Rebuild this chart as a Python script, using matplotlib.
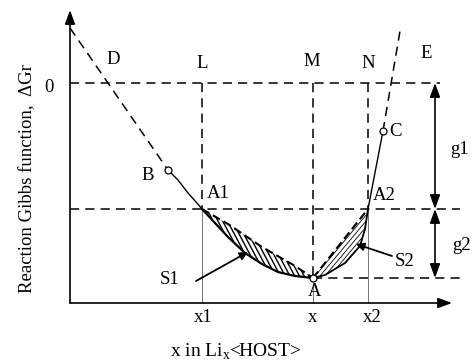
import matplotlib
matplotlib.use("Agg")
import numpy as np
import matplotlib.pyplot as plt
from matplotlib.patches import Polygon

plt.rcParams['font.family'] = ['Liberation Serif', 'DejaVu Serif']

# compositions (x in Li_x<HOST>)
x1_val, x_val, x2_val = 1.32, 2.43, 2.98
# Gibbs energy levels
g_zero, g_A1, g_A = 0.0, -1.26, -1.95

# dashed extrapolation D -> B
line_D_x = [0.00, 0.98]
line_D_y = [0.55, -0.87]
# solid branch B -> A1
branch_BA1_x = [0.98, 1.08, 1.18, 1.26, 1.32]
branch_BA1_y = [-0.87, -0.97, -1.10, -1.19, -1.26]
# region S1: upper (dashed) and lower (solid) boundaries A1 -> A
s1_upper_x = [1.32, 1.58, 1.92, 2.25, 2.43]
s1_upper_y = [-1.26, -1.41, -1.64, -1.83, -1.95]
s1_lower_x = [1.32, 1.45, 1.58, 1.75, 1.92, 2.08, 2.25, 2.43]
s1_lower_y = [-1.26, -1.40, -1.54, -1.70, -1.81, -1.89, -1.93, -1.95]
# region S2: chord and curve A -> A2
s2_upper_x = [2.43, 2.98]
s2_upper_y = [-1.95, -1.26]
s2_lower_x = [2.43, 2.55, 2.75, 2.90, 2.95, 2.98]
s2_lower_y = [-1.95, -1.92, -1.80, -1.63, -1.46, -1.26]
# solid branch A2 -> C and dashed extrapolation C -> E
branch_A2C_x = [2.98, 3.13]
branch_A2C_y = [-1.26, -0.48]
line_E_x = [3.13, 3.30]
line_E_y = [-0.48, 0.52]

x_axis_end, y_axis_top, y_axis_bottom = 3.82, 0.73, -2.20
g_arrow_x = 3.65

fig = plt.figure(figsize=(4.73, 3.61), dpi=100)
ax = fig.add_axes([0, 0, 1, 1])
ax.set_xlim(-0.70, 4.03)
ax.set_ylim(-2.78, 0.83)
ax.axis('off')

dash = (0, (6, 4))
lw_axis = 1.2
lw_dash = 1.1


def hatch_region(xs_up, ys_up, xs_lo, ys_lo, angle_deg, spacing, lw):
    """Fill the band between two boundaries with parallel lines clipped to it."""
    pts = list(zip(xs_up, ys_up)) + list(zip(xs_lo, ys_lo))[::-1]
    patch = Polygon(pts, closed=True, facecolor='white', edgecolor='none', zorder=2)
    ax.add_patch(patch)
    a = np.deg2rad(angle_deg)
    d = np.array([np.cos(a), np.sin(a)])
    n = np.array([-d[1], d[0]])
    arr = np.array(pts)
    c0 = arr.mean(axis=0)
    proj = (arr - c0) @ n
    for off in np.arange(proj.min() - spacing, proj.max() + spacing, spacing):
        p0 = c0 + off * n - 1.5 * d
        p1 = c0 + off * n + 1.5 * d
        ln, = ax.plot([p0[0], p1[0]], [p0[1], p1[1]], color='black', lw=lw, zorder=2.5)
        ln.set_clip_path(patch)


# axes with arrowheads
ax.annotate('', xy=(0, y_axis_top), xytext=(0, y_axis_bottom),
            arrowprops=dict(arrowstyle='-|>,head_length=0.6,head_width=0.22',
                            lw=lw_axis, color='black',
                            mutation_scale=14, shrinkA=0, shrinkB=0))
ax.annotate('', xy=(x_axis_end, y_axis_bottom), xytext=(0, y_axis_bottom),
            arrowprops=dict(arrowstyle='-|>,head_length=0.6,head_width=0.22',
                            lw=lw_axis, color='black',
                            mutation_scale=14, shrinkA=0, shrinkB=0))

# horizontal reference levels
ax.plot([0, 3.70], [g_zero, g_zero], color='black', lw=lw_dash, ls=dash)
ax.plot([0, 3.90], [g_A1, g_A1], color='black', lw=lw_dash, ls=dash)
ax.plot([x_val, 3.92], [g_A, g_A], color='black', lw=lw_dash, ls=dash)

# vertical guides L, M, N
for xv, yend in [(x1_val, g_A1), (x_val, g_A), (x2_val, g_A1)]:
    ax.plot([xv, xv], [g_zero, yend], color='black', lw=lw_dash, ls=dash)
    ax.plot([xv, xv], [yend, y_axis_bottom], color='#777777', lw=0.7)

# hatched regions S1 and S2
hatch_region(s1_upper_x, s1_upper_y, s1_lower_x, s1_lower_y, -62, 0.042, 1.0)
hatch_region(s2_upper_x, s2_upper_y, s2_lower_x, s2_lower_y, 50, 0.038, 0.6)

# curve and extrapolations
ax.plot(line_D_x, line_D_y, color='black', lw=lw_dash, ls=dash)
ax.plot(branch_BA1_x, branch_BA1_y, color='black', lw=1.0)
ax.plot(s1_upper_x, s1_upper_y, color='black', lw=1.5, ls=(0, (4, 2)), zorder=3)
ax.plot(s1_lower_x, s1_lower_y, color='black', lw=1.6, zorder=3)
ax.plot(s2_upper_x, s2_upper_y, color='black', lw=1.5, ls=(0, (4, 2)), zorder=3)
ax.plot(s2_lower_x, s2_lower_y, color='black', lw=1.3, zorder=3)
ax.plot(branch_A2C_x, branch_A2C_y, color='black', lw=1.0)
ax.plot(line_E_x, line_E_y, color='black', lw=lw_dash, ls=dash)

# open circles at B, C, A
for px, py in [(line_D_x[1], line_D_y[1]), (branch_A2C_x[1], branch_A2C_y[1]),
               (x_val, g_A)]:
    ax.plot(px, py, marker='o', ms=5, mfc='white', mec='black', mew=0.9, zorder=5)

# g1 / g2 double arrows
for ya, yb in [(g_zero, g_A1), (g_A1, g_A)]:
    ax.annotate('', xy=(g_arrow_x, ya), xytext=(g_arrow_x, yb),
                arrowprops=dict(arrowstyle='<|-|>,head_length=0.6,head_width=0.22',
                                lw=1.2, color='black',
                                mutation_scale=14, shrinkA=0, shrinkB=0))

# S1 / S2 pointers
ax.annotate('', xy=(1.78, -1.69), xytext=(1.26, -1.98),
            arrowprops=dict(arrowstyle='-|>', lw=1.3, color='black',
                            mutation_scale=12, shrinkA=0, shrinkB=0), zorder=4)
ax.annotate('', xy=(2.86, -1.61), xytext=(3.22, -1.73),
            arrowprops=dict(arrowstyle='-|>', lw=1.3, color='black',
                            mutation_scale=12, shrinkA=0, shrinkB=0), zorder=4)

fs = 13.5
labels = [
    ('D', 0.43, 0.24), ('L', 1.32, 0.19), ('M', 2.42, 0.21), ('N', 2.98, 0.19),
    ('E', 3.56, 0.30), ('0', -0.21, -0.05), ('B', 0.78, -0.92), ('C', 3.26, -0.48),
    ('A1', 1.48, -1.10), ('A2', 3.14, -1.12), ('A', 2.45, -2.09),
    ('S1', 1.00, -1.97), ('S2', 3.35, -1.78), ('g1', 3.90, -0.66), ('g2', 3.92, -1.62),
    ('x1', 1.33, -2.34), ('x', 2.43, -2.34), ('x2', 3.02, -2.34),
]
for txt, tx, ty in labels:
    ax.text(tx, ty, txt, fontsize=fs, ha='center', va='center')

ax.text(1.66, -2.69, r'x in Li$_{\mathregular{x}}$<HOST>', fontsize=14,
        ha='center', va='center')
ax.text(-0.42, -0.96, 'Reaction Gibbs function,  \u0394Gr', fontsize=fs,
        ha='center', va='center', rotation=90)

fig.savefig('out.png', dpi=100)
